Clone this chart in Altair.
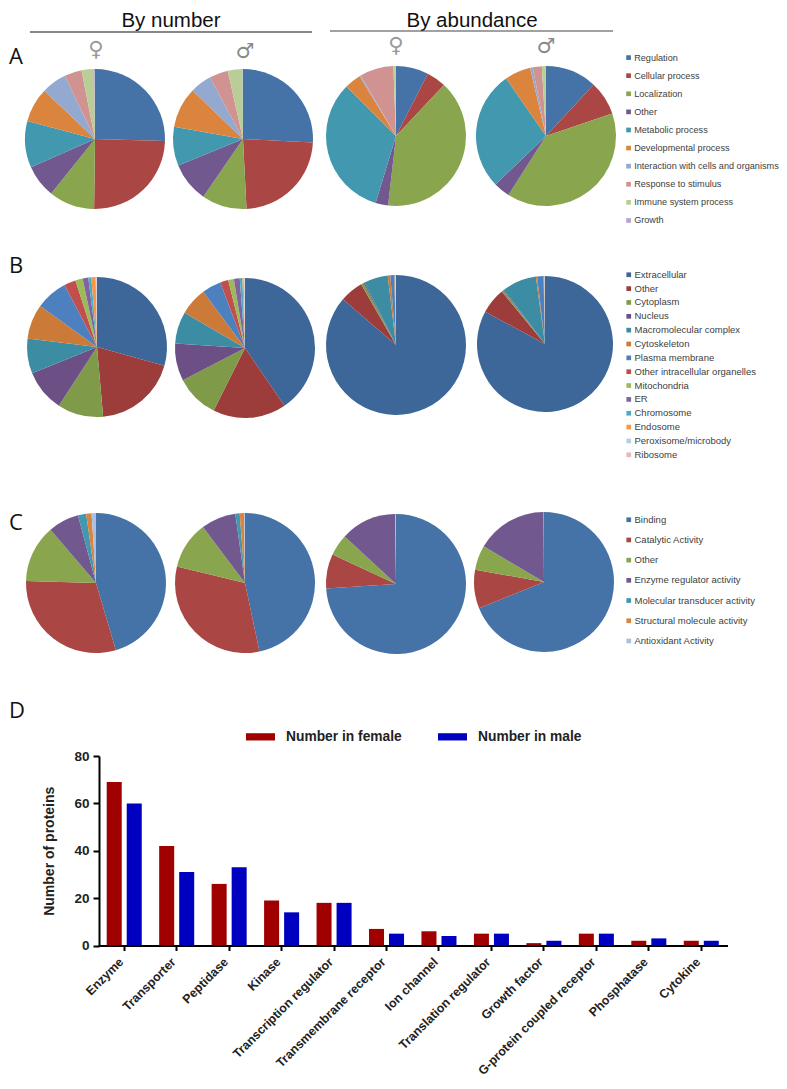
import altair as alt
import pandas as pd

# ---- category lists ----
cats_a = ["Regulation", "Cellular process", "Localization", "Other", "Metabolic process",
          "Developmental process", "Interaction with cells and organisms",
          "Response to stimulus", "Immune system process", "Growth"]
cats_b = ["Extracellular", "Other", "Cytoplasm", "Nucleus", "Macromolecular complex",
          "Cytoskeleton", "Plasma membrane", "Other intracellular organelles", "Mitochondria",
          "ER", "Chromosome", "Endosome", "Peroxisome/microbody", "Ribosome"]
cats_c = ["Binding", "Catalytic Activity", "Other", "Enzyme regulator activity",
          "Molecular transducer activity", "Structural molecule activity", "Antioxidant Activity"]

# ---- slice shares (percent) ----
a_num_f = [25.5, 24.8, 10.6, 7.6, 10.8, 8.0, 5.8, 4.0, 2.9, 0.2]
a_num_m = [25.8, 23.4, 10.4, 9.2, 9.0, 9.4, 5.0, 4.3, 3.4, 0.1]
a_abn_f = [7.5, 4.5, 39.7, 2.9, 32.7, 3.8, 0.3, 7.8, 0.5, 0.1]
a_abn_m = [11.9, 7.9, 39.2, 3.8, 27.5, 6.0, 0.6, 2.1, 0.9, 0.05]

b_num_f = [29.4, 19.3, 10.6, 9.7, 8.1, 8.0, 7.4, 2.7, 1.7, 1.3, 0.7, 1.0, 0.2, 0.1]
b_num_m = [40.4, 16.9, 10.0, 8.6, 7.4, 6.4, 4.4, 1.9, 1.3, 1.35, 0.6, 0.3, 0.2, 0.1]
b_abn_f = [86.3, 5.4, 0.6, 0.3, 5.5, 0.6, 0.9, 0.05, 0.05, 0.05, 0.05, 0.05, 0.1, 0.05]
b_abn_m = [82.9, 6.2, 0.4, 0.2, 8.2, 0.3, 1.5, 0.05, 0.05, 0.05, 0.05, 0.05, 0.05, 0.05]

c_num_f = [45.4, 30.0, 13.3, 7.1, 1.9, 1.25, 1.0]
c_num_m = [46.4, 31.9, 10.9, 8.0, 1.0, 1.0, 0.2]
c_abn_f = [74.0, 7.9, 5.0, 12.9, 0.05, 0.05, 0.1]
c_abn_m = [68.9, 8.9, 5.7, 16.4, 0.03, 0.03, 0.04]

# ---- bar chart ----
bar_cats = ["Enzyme", "Transporter", "Peptidase", "Kinase", "Transcription regulator",
            "Transmembrane receptor", "Ion channel", "Translation regulator", "Growth factor",
            "G-protein coupled receptor", "Phosphatase", "Cytokine"]
female = [69, 42, 26, 19, 18, 7, 6, 5, 1, 5, 2, 2]
male = [60, 31, 33, 14, 18, 5, 4, 5, 2, 5, 3, 2]
series_names = ["Number in female", "Number in male"]

# ---- colours ----
col_a = ["#4572A7", "#AA4643", "#89A54E", "#71588F", "#4198AF", "#DB843D",
         "#93A9CF", "#D19392", "#B9CD96", "#B3A5CC"]
col_b = ["#3D6798", "#9C3D3B", "#7F9A48", "#6C4F85", "#3C8CA4", "#CC7A38", "#4C80BE",
         "#C0504D", "#9BBB59", "#8064A2", "#4BACC6", "#F79646", "#B8CCE4", "#E6B9B8"]
col_c = ["#4572A7", "#AA4643", "#89A54E", "#71588F", "#4198AF", "#DB843D", "#A9BFE3"]
col_bar = ["#A00000", "#0000C0"]

OFF = 8  # page margin


def pie(cats, vals, cols, cx, cy, r, legend=None):
    df = pd.DataFrame({"cat": cats, "v": vals, "i": range(len(cats))})
    return alt.Chart(df).mark_arc(outerRadius=r).encode(
        x=alt.value(cx - OFF),
        y=alt.value(cy - OFF),
        theta=alt.Theta("v:Q", stack="normalize", scale=alt.Scale(domain=[0, 1])),
        order=alt.Order("i:Q"),
        color=alt.Color("cat:N", scale=alt.Scale(domain=cats, range=cols), legend=legend),
    )


def pie_legend(x, y, row_pad, size=9.5):
    return alt.Legend(orient="none", legendX=x - OFF, legendY=y - OFF, title=None,
                      symbolType="square", symbolSize=22, symbolStrokeWidth=0,
                      labelFont="Liberation Sans", labelFontSize=size, labelColor="#404040",
                      labelOffset=1, labelLimit=300, rowPadding=row_pad, padding=0)


def label(txt, x, y, size, font="Liberation Sans", color="#111111", weight="normal"):
    return alt.Chart(pd.DataFrame({"t": [txt]})).mark_text(
        font=font, fontSize=size, color=color, fontWeight=weight, align="center", baseline="middle"
    ).encode(text="t:N", x=alt.value(x - OFF), y=alt.value(y - OFF))


def hline(x1, x2, y, color):
    return alt.Chart(pd.DataFrame({"a": [0]})).mark_rule(color=color, strokeWidth=1.2).encode(
        x=alt.value(x1 - OFF), x2=alt.value(x2 - OFF), y=alt.value(y - OFF))


layers = [
    pie(cats_a, a_num_f, col_a, 95, 139, 70, pie_legend(624, 53, 8.1, 9.15)),
    pie(cats_a, a_num_m, col_a, 243, 139, 70),
    pie(cats_a, a_abn_f, col_a, 396, 136, 70),
    pie(cats_a, a_abn_m, col_a, 546, 136, 70),
    pie(cats_b, b_num_f, col_b, 97, 347, 70, pie_legend(624, 270, 2.85)),
    pie(cats_b, b_num_m, col_b, 245, 348, 70),
    pie(cats_b, b_abn_f, col_b, 396, 345, 70),
    pie(cats_b, b_abn_m, col_b, 545, 344, 68),
    pie(cats_c, c_num_f, col_c, 96, 583, 70, pie_legend(624, 515, 9.2)),
    pie(cats_c, c_num_m, col_c, 245, 583, 70),
    pie(cats_c, c_abn_f, col_c, 396, 584, 70),
    pie(cats_c, c_abn_m, col_c, 544, 582, 70),
]

texts = [
    label("By number", 171, 20.5, 20.5),
    label("By abundance", 472, 20.5, 20.5),
    hline(30, 312, 32, "#111111"),
    hline(330, 613, 31, "#444444"),
    label("\u2640", 96, 50, 21, "DejaVu Sans", "#999999"),
    label("\u2642", 245, 52, 21, "DejaVu Sans", "#888888"),
    label("\u2640", 396, 46, 21, "DejaVu Sans", "#999999"),
    label("\u2642", 546, 47, 21, "DejaVu Sans", "#888888"),
    label("A", 16, 57, 22, "Open Sans"),
    label("B", 16, 266, 22, "Open Sans"),
    label("C", 16, 523, 22, "Open Sans"),
    label("D", 17, 711, 22, "Open Sans"),
]

bar_df = pd.DataFrame({
    "cat": bar_cats * 2,
    "n": female + male,
    "s": [series_names[0]] * len(bar_cats) + [series_names[1]] * len(bar_cats),
})

W, H = 771, 1073
X0, X1 = 98 - OFF, 727.5 - OFF
Y_AXIS = 99 - OFF
Y0, Y1 = 945.5 - OFF, 756 - OFF

bars = alt.Chart(bar_df).mark_bar().encode(
    x=alt.X("cat:N", sort=bar_cats,
            scale=alt.Scale(range=[X0, X1], paddingInner=0.332, paddingOuter=0.166),
            axis=alt.Axis(title=None, labelAngle=-45, labelAlign="right", labelBaseline="middle",
                          labelFont="Liberation Sans", labelFontSize=12.4, labelFontWeight="bold",
                          labelColor="#222222", domainColor="#000000", domainWidth=2,
                          tickColor="#000000", tickWidth=2, tickSize=5, labelPadding=9,
                          labelOffset=-3, labelLimit=300,
                          offset=Y0 - H, labelOverlap=False)),
    xOffset=alt.XOffset("s:N", sort=series_names, scale=alt.Scale(paddingInner=0.25)),
    y=alt.Y("n:Q", scale=alt.Scale(domain=[0, 80], range=[Y0, Y1]),
            axis=alt.Axis(title="Number of proteins", values=[0, 20, 40, 60, 80], grid=False,
                          labelFont="Liberation Sans", labelFontSize=13.5, labelFontWeight="bold",
                          labelColor="#222222", domainColor="#000000", domainWidth=2,
                          tickColor="#000000", tickWidth=2, tickSize=6, labelPadding=4,
                          titleFont="Liberation Sans", titleFontSize=14, titleFontWeight="bold",
                          titleColor="#222222", titlePadding=17,
                          offset=-Y_AXIS)),
    color=alt.Color("s:N", scale=alt.Scale(domain=series_names, range=col_bar),
                    legend=alt.Legend(orient="none", legendX=246 - OFF, legendY=722 - OFF, title=None,
                                      direction="horizontal", columns=2,
                                      symbolType="M-1,-0.25H1V0.25H-1Z", symbolSize=841,
                                      symbolStrokeWidth=0, labelFont="Liberation Sans",
                                      labelFontSize=13.8, labelFontWeight="bold", labelColor="#222222",
                                      labelOffset=11, columnPadding=36, padding=0)),
)

chart = alt.layer(*layers, *texts, bars).resolve_scale(color="independent").properties(
    width=W, height=H, padding=0, autosize=alt.AutoSizeParams(type="none"),
).configure_view(stroke=None)

chart.save("out.html", embed_options={"renderer": "svg", "actions": False})
